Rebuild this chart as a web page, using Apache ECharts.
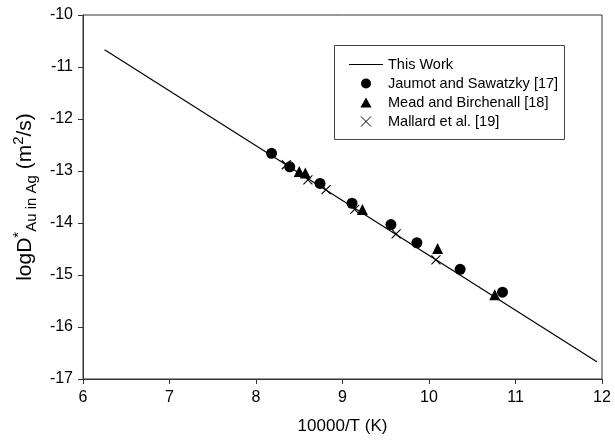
<!DOCTYPE html>
<html>
<head>
<meta charset="utf-8">
<script src="https://cdn.jsdelivr.net/npm/echarts@6/dist/echarts.min.js"></script>
<style>
html,body{margin:0;padding:0;background:#fff;}
#main{width:615px;height:440px;}
</style>
</head>
<body>
<div id="main"></div>
<script>
// ---- data ----
var lineX = [6.25, 11.94];
var lineY = [-10.67, -16.67];

var jaumotX = [8.18, 8.39, 8.74, 9.11, 9.56, 9.86, 10.36, 10.85];
var jaumotY = [-12.66, -12.92, -13.24, -13.62, -14.03, -14.38, -14.89, -15.33];

var meadX = [8.50, 8.57, 9.23, 10.10, 10.76];
var meadY = [-13.01, -13.04, -13.74, -14.49, -15.38];

var mallardX = [8.35, 8.60, 8.81, 9.14, 9.62, 10.08];
var mallardY = [-12.88, -13.17, -13.36, -13.74, -14.21, -14.71];

var seriesNames = ['This Work', 'Jaumot and Sawatzky [17]', 'Mead and Birchenall [18]', 'Mallard et al. [19]'];
var xTicks = {min: 6, max: 12, step: 1};
var yTicks = {min: -17, max: -10, step: 1};

function pairs(xs, ys) { return xs.map(function (x, i) { return [x, ys[i]]; }); }

var FONT = '"Liberation Sans", Arial, Helvetica, sans-serif';
var crossPath = 'path://M0,0L10,10M10,0L0,10';
var triPath = 'path://M5,0L10,9L0,9Z';
var linePath = 'path://M0,0L34,0L34,1.2L0,1.2Z';

var chart = echarts.init(document.getElementById('main'), null, {renderer: 'canvas'});
chart.setOption({
  animation: false,
  backgroundColor: '#fff',
  textStyle: {fontFamily: FONT, color: '#000'},
  grid: {left: 83, top: 15, right: 13, bottom: 61, show: true, borderColor: '#333', borderWidth: 1, backgroundColor: 'transparent'},
  xAxis: {
    type: 'value', min: xTicks.min, max: xTicks.max, interval: xTicks.step,
    name: '10000/T (K)', nameLocation: 'middle', nameGap: 39,
    nameTextStyle: {fontSize: 17, color: '#000', fontFamily: FONT},
    axisLine: {lineStyle: {color: '#333', width: 1}},
    axisTick: {show: true, inside: false, length: 5, lineStyle: {color: '#333'}},
    axisLabel: {fontSize: 16, color: '#000', margin: 11, fontFamily: FONT},
    splitLine: {show: false}
  },
  yAxis: {
    type: 'value', min: yTicks.min, max: yTicks.max, interval: yTicks.step,
    name: '{a|logD}{b|*}{c|Au in Ag}{a| (m}{b|2}{a|/s)}',
    nameLocation: 'middle', nameGap: 43, nameRotate: 90,
    nameTextStyle: {
      fontFamily: FONT, color: '#000',
      rich: {
        a: {fontSize: 21, lineHeight: 28, fontFamily: FONT, color: '#000', verticalAlign: 'middle'},
        b: {fontSize: 15, fontFamily: FONT, color: '#000', verticalAlign: 'top'},
        c: {fontSize: 15, fontFamily: FONT, color: '#000', verticalAlign: 'bottom'}
      }
    },
    axisLine: {lineStyle: {color: '#333', width: 1}},
    axisTick: {show: true, inside: false, length: 5, lineStyle: {color: '#333'}},
    axisLabel: {fontSize: 16, color: '#000', margin: 10, fontFamily: FONT},
    splitLine: {show: false}
  },
  legend: {
    orient: 'vertical', left: 344, top: 52,
    itemWidth: 34, itemHeight: 10, itemGap: 4,
    textStyle: {fontSize: 14.5, color: '#000', fontFamily: FONT},
    data: [
      {name: seriesNames[0], icon: linePath, itemStyle: {color: '#000', opacity: 1}},
      {name: seriesNames[1], icon: 'circle', itemStyle: {color: '#000', opacity: 1}},
      {name: seriesNames[2], icon: triPath, itemStyle: {color: '#000', opacity: 1}},
      {name: seriesNames[3], icon: crossPath, itemStyle: {color: 'transparent', borderColor: '#000', borderWidth: 1, opacity: 1}}
    ]
  },
  graphic: [{
    type: 'rect', left: 334, top: 45, z: 10, silent: true,
    shape: {width: 230, height: 94},
    style: {fill: 'transparent', stroke: '#444', lineWidth: 1}
  }],
  series: [
    {
      name: seriesNames[0], type: 'line', data: pairs(lineX, lineY),
      symbol: 'none', lineStyle: {color: '#000', width: 1.2}, itemStyle: {color: '#000'}, z: 2
    },
    {
      name: seriesNames[1], type: 'scatter', data: pairs(jaumotX, jaumotY),
      symbol: 'circle', symbolSize: 11, itemStyle: {color: '#000', opacity: 1}, z: 3
    },
    {
      name: seriesNames[2], type: 'scatter', data: pairs(meadX, meadY),
      symbol: 'triangle', symbolSize: 11, itemStyle: {color: '#000', opacity: 1}, z: 3
    },
    {
      name: seriesNames[3], type: 'scatter', data: pairs(mallardX, mallardY),
      symbol: crossPath, symbolSize: 9,
      itemStyle: {color: 'transparent', borderColor: '#000', borderWidth: 1.1, opacity: 1}, z: 4
    }
  ]
});
</script>
</body>
</html>
